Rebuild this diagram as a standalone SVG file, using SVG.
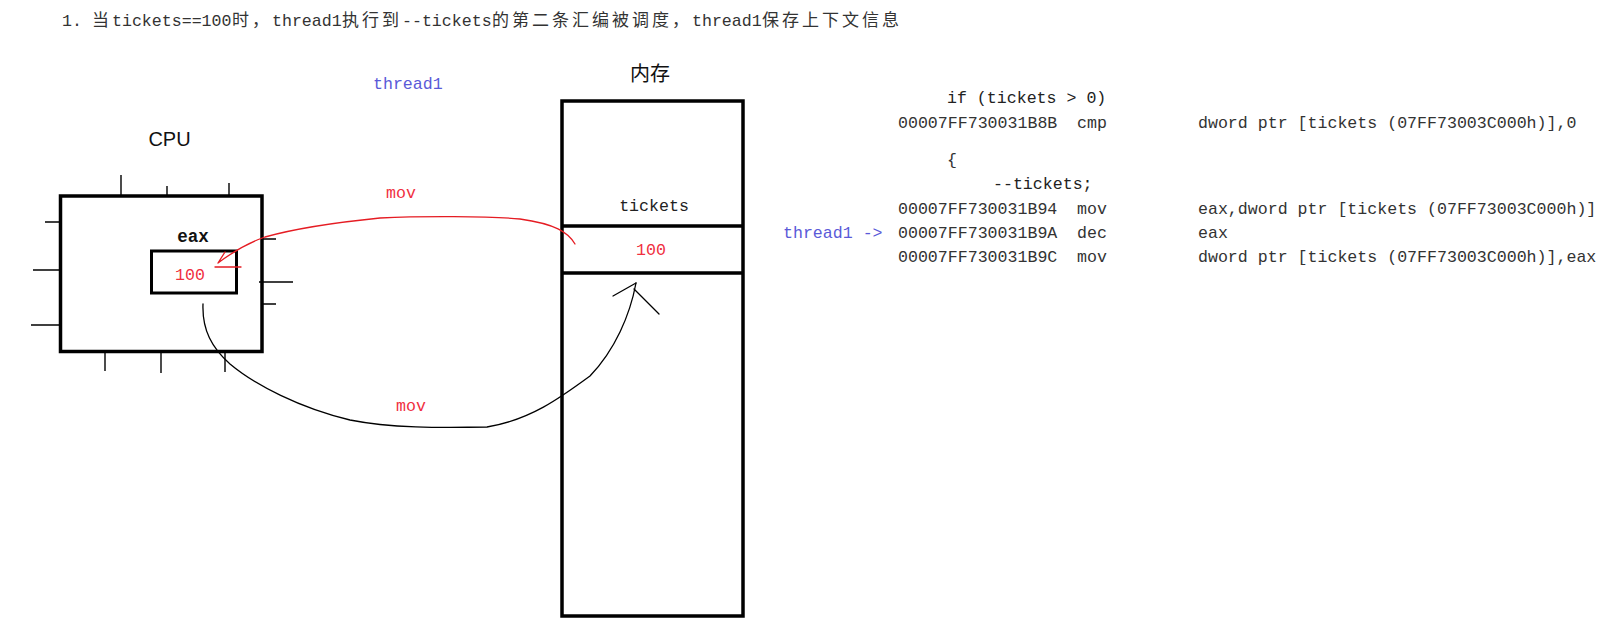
<svg xmlns="http://www.w3.org/2000/svg" width="1618" height="635" viewBox="0 0 1618 635">
<style>
.mono{font-family:"Liberation Mono","DejaVu Sans Mono","Noto Sans CJK SC",monospace;font-size:16.6px;fill:#333}
.cjk{font-family:"Noto Sans CJK SC","Noto Sans",sans-serif;font-size:17px;letter-spacing:3px;fill:#333}
.box{fill:none;stroke:#000;stroke-width:3.5}
.pin{stroke:#000;stroke-width:1.4;fill:none}
.red{fill:#f0303f}
.blue{fill:#5a5ad8}
.redline{fill:none;stroke:#e51c23;stroke-width:1.3;stroke-linejoin:round;stroke-linecap:round}
.blkline{fill:none;stroke:#000;stroke-width:1.3;stroke-linejoin:round;stroke-linecap:round}
</style>
<rect width="1618" height="635" fill="#fff"/>
<g id="title">
<text y="26"><tspan class="mono" x="62">1.</tspan><tspan class="cjk" x="92">当</tspan><tspan class="mono" x="112">tickets==100</tspan><tspan class="cjk" x="232">时，</tspan><tspan class="mono" x="272">thread1</tspan><tspan class="cjk" x="342">执行到</tspan><tspan class="mono" x="402">--tickets</tspan><tspan class="cjk" x="492">的第二条汇编被调度，</tspan><tspan class="mono" x="692">thread1</tspan><tspan class="cjk" x="762">保存上下文信息</tspan></text>
</g>
<g id="cpu">
<text x="169.5" y="146" text-anchor="middle" font-family="Liberation Sans, Arial, sans-serif" font-size="20" fill="#111">CPU</text>
<rect class="box" x="60.5" y="196" width="201.5" height="155.5"/>
<path class="pin" d="M121,175V196M167,186V196M229,183V196M45,222H60M33,270H60M31,325H60M262,239H276M259,282H293M262,304H276M105,352V371M161,352V373M225,352V372"/>
</g>
<g id="eax">
<text x="193" y="242" text-anchor="middle" font-family="Liberation Mono, monospace" font-weight="bold" font-size="17.5" fill="#111">eax</text>
<rect x="151.5" y="251" width="85" height="42" fill="none" stroke="#000" stroke-width="3"/>
<text x="190" y="280" text-anchor="middle" class="mono red">100</text>
</g>
<g id="memory">
<text x="650" y="81" text-anchor="middle" font-family="Noto Sans CJK SC, sans-serif" font-size="20" fill="#111">内存</text>
<rect class="box" x="562" y="101" width="181" height="515"/>
<path class="box" d="M562,226H743M562,273H743"/>
<text x="654" y="211" text-anchor="middle" class="mono" style="fill:#222">tickets</text>
<text x="651" y="255" text-anchor="middle" class="mono red">100</text>
</g>
<g id="labels">
<text x="373" y="89" class="mono blue">thread1</text>
<text x="386" y="198" class="mono red">mov</text>
<text x="396" y="411" class="mono red">mov</text>
</g>
<g id="code">
<text x="947" y="103" class="mono" style="fill:#222">if (tickets &gt; 0)</text>
<text x="898" y="128" class="mono">00007FF730031B8B</text>
<text x="1077" y="128" class="mono">cmp</text>
<text x="1198" y="128" class="mono">dword ptr [tickets (07FF73003C000h)],0</text>
<text x="947" y="165" class="mono">{</text>
<text x="993" y="189" class="mono" style="fill:#222">--tickets;</text>
<text x="898" y="214" class="mono">00007FF730031B94</text>
<text x="1077" y="214" class="mono">mov</text>
<text x="1198" y="214" class="mono">eax,dword ptr [tickets (07FF73003C000h)]</text>
<text x="783" y="238" class="mono blue">thread1 -&gt;</text>
<text x="898" y="238" class="mono">00007FF730031B9A</text>
<text x="1077" y="238" class="mono">dec</text>
<text x="1198" y="238" class="mono">eax</text>
<text x="898" y="262" class="mono">00007FF730031B9C</text>
<text x="1077" y="262" class="mono">mov</text>
<text x="1198" y="262" class="mono">dword ptr [tickets (07FF73003C000h)],eax</text>
</g>
<g id="connectors">
<path class="redline" d="M575,244 C568,232 555,224 520,219 C490,216 420,216 380,218 C330,223 290,230 265,237 C245,244 230,254 218,263 L225,252"/>
<path class="redline" d="M215,267H241"/>
<path class="blkline" d="M203,304 C202,330 212,348 230,364 C255,385 300,408 350,420 C390,428 440,428 487,427 C530,420 560,398 590,376 C615,350 630,315 636,283"/>
<path class="blkline" d="M613,296L636,283M634,289L659,314"/>
</g>
</svg>
